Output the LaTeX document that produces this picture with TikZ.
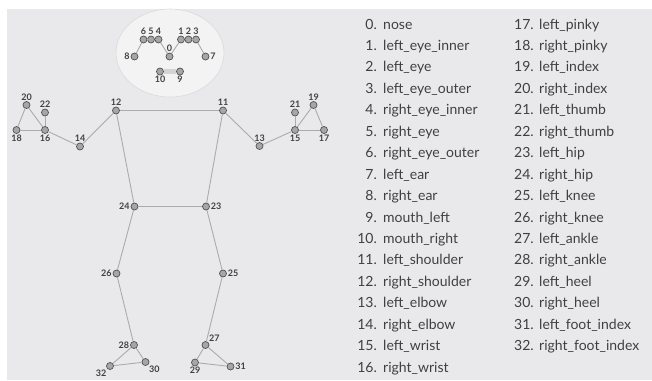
\documentclass[tikz,border=0pt]{standalone}
\usepackage{fontspec}
\setmainfont{Lato}
\usetikzlibrary{positioning}

\definecolor{panel}{HTML}{E9E9EB}
\definecolor{facebg}{HTML}{F3F3F4}
\definecolor{faceline}{HTML}{DADADC}
\definecolor{bonecol}{HTML}{ABABAB}
\definecolor{mouthcol}{HTML}{D4D4D6}
\definecolor{jointfill}{HTML}{A6A6A6}
\definecolor{jointring}{HTML}{505050}
\definecolor{txt}{HTML}{404040}

\begin{document}
\begin{tikzpicture}[x=1pt, y=-1pt,
  joint/.style={circle, fill=jointfill, draw=jointring, line width=0.7pt,
    minimum size=7pt, inner sep=0pt},
  num/.style={font=\bfseries\fontsize{9}{9}\selectfont, text=txt, inner sep=0.8pt},
  bone/.style={bonecol, line width=0.9pt},
  item/.style={font=\fontsize{14}{14}\selectfont, text=txt, inner sep=0pt}]
  \useasboundingbox (0,0) rectangle (652,380);

  % Panel and face
  \fill[panel] (7,9) rectangle (652,380);
  \filldraw[fill=facebg, draw=faceline, line width=0.6pt] (170,53) ellipse [x radius=54, y radius=44];

  % Landmarks
  \foreach \n/\x/\y/\p in {0/169.5/56.5/above, 1/181/39.5/above, 2/188.5/39.5/above,
      3/196/39.5/above, 4/158.5/39.5/above, 5/151/39.5/above, 6/143.5/39.5/above,
      7/205.5/56.5/right, 8/134.5/56.5/left, 9/180/71.5/below, 10/160/71.5/below,
      11/223/110.5/above, 12/116/110.5/above, 13/259.5/146/above, 14/80/146.5/above,
      15/295/130/below, 16/45/130/below, 17/324/130/below, 18/16.5/130/below,
      19/313.5/105/above, 20/26.5/105/above, 21/295/112.5/above, 22/45/112.5/above,
      23/206/206.5/right, 24/134.5/206.5/left, 25/223/273.5/right, 26/116.5/273.5/left,
      27/205.5/345/above right, 28/134/345/left, 29/195/362.5/below,
      30/145.5/362/below right, 31/230.5/366.5/right, 32/110/366/below left}
    \node[joint, label={[num]\p:\n}] (p\n) at (\x,\y) {};

  % Skeleton
  \draw[mouthcol, line width=4.5pt] (p10) -- (p9);
  \foreach \a/\b in {0/1, 1/2, 2/3, 3/7, 0/4, 4/5, 5/6, 6/8,
      11/12, 11/13, 13/15, 15/17, 15/19, 15/21, 17/19,
      12/14, 14/16, 16/18, 16/20, 16/22, 18/20,
      11/23, 12/24, 23/24, 23/25, 25/27, 27/29, 27/31, 29/31,
      24/26, 26/28, 28/30, 28/32, 30/32}
    \draw[bone] (p\a) -- (p\b);

  % Legend
  \foreach \t [count=\i from 0] in {nose, left\_eye\_inner, left\_eye, left\_eye\_outer,
      right\_eye\_inner, right\_eye, right\_eye\_outer, left\_ear, right\_ear,
      mouth\_left, mouth\_right, left\_shoulder, right\_shoulder, left\_elbow,
      right\_elbow, left\_wrist, right\_wrist} {
    \node[item, anchor=base east] (k\i) at (377, 29+21.45*\i) {\i.};
    \node[item, anchor=base west] (t\i) at (383, 29+21.45*\i) {\t};
  }
  \foreach \t [count=\i from 17] in {left\_pinky, right\_pinky, left\_index, right\_index,
      left\_thumb, right\_thumb, left\_hip, right\_hip, left\_knee, right\_knee,
      left\_ankle, right\_ankle, left\_heel, right\_heel, left\_foot\_index,
      right\_foot\_index} {
    \node[item, anchor=base west] (k\i) at (514, 29+21.45*\i-364.65) {\i.};
    \node[item, anchor=base west] (t\i) at (539, 29+21.45*\i-364.65) {\t};
  }
\end{tikzpicture}
\end{document}
